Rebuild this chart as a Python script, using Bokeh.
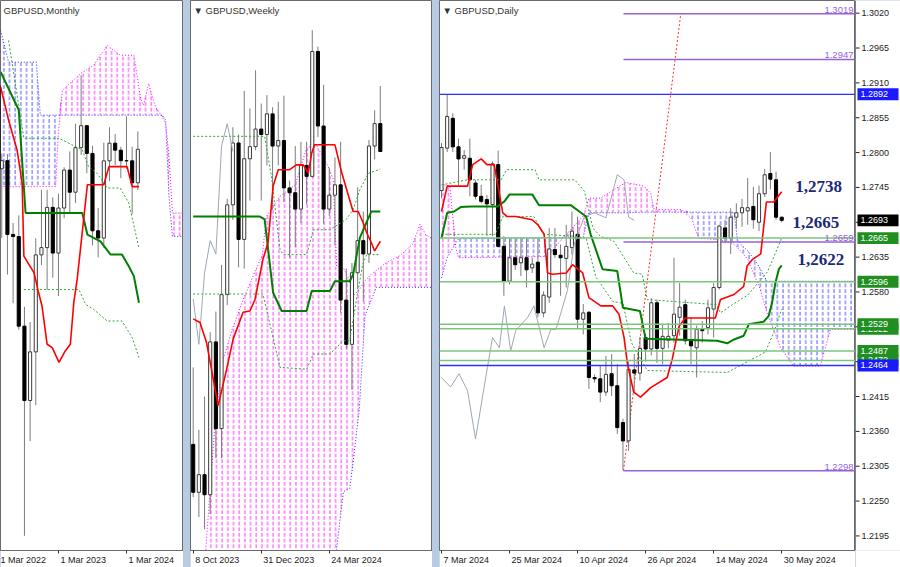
import numpy as np
from bokeh.plotting import figure
from bokeh.layouts import row
from bokeh.models import Range1d, FixedTicker, LinearAxis, Label, Span
from bokeh.core.properties import value
from bokeh.embed import file_html
from bokeh.resources import INLINE

# =================== DAILY (bar 0 = 7 Mar 2024) ===================
D_O = [1.2740,1.2807,1.2854,1.2809,1.2791,1.2791,1.2752,1.2731,1.2726,1.2718,
       1.2781,1.2652,1.2597,1.2634,1.2626,1.2634,1.2618,1.2627,1.2547,1.2572,
       1.2647,1.2638,1.2633,1.2650,1.2671,1.2537,1.2548,1.2445,1.2443,1.2422,
       1.2451,1.2432,1.2374,1.2345,1.2457,1.2452,1.2508,1.2490,1.2563,1.2491,
       1.2504,1.2511,1.2540,1.2560,1.2505,1.2492,1.2521,1.2524,1.2553,1.2587,
       1.2681,1.2665,1.2698,1.2705,1.2708,1.2715,1.2690,1.2735,1.2767,1.2757,
       1.2698]
D_H = [1.2815,1.2892,1.2862,1.2822,1.2804,1.2822,1.2757,1.2749,1.2733,1.2786,
       1.2803,1.2668,1.2665,1.2665,1.2665,1.2665,1.2634,1.2665,1.2581,1.2681,
       1.2681,1.2655,1.2686,1.2707,1.2699,1.2561,1.2550,1.2450,1.2464,1.2479,
       1.2482,1.2466,1.2380,1.2470,1.2482,1.2509,1.2514,1.2570,1.2568,1.2530,
       1.2531,1.2634,1.2594,1.2568,1.2540,1.2527,1.2534,1.2568,1.2594,1.2686,
       1.2694,1.2712,1.2720,1.2727,1.2760,1.2746,1.2748,1.2774,1.2801,1.2770,
       1.2699]
D_L = [1.2728,1.2801,1.2801,1.2749,1.2773,1.2731,1.2726,1.2720,1.2668,1.2668,
       1.2650,1.2574,1.2592,1.2615,1.2605,1.2587,1.2610,1.2540,1.2540,1.2563,
       1.2634,1.2574,1.2587,1.2639,1.2521,1.2513,1.2427,1.2437,1.2406,1.2416,
       1.2416,1.2356,1.2299,1.2329,1.2420,1.2440,1.2470,1.2480,1.2468,1.2466,
       1.2491,1.2500,1.2511,1.2497,1.2466,1.2445,1.2500,1.2513,1.2508,1.2584,
       1.2657,1.2640,1.2680,1.2683,1.2686,1.2680,1.2676,1.2730,1.2742,1.2694,
       1.2690]
D_C = [1.2808,1.2857,1.2809,1.2790,1.2795,1.2757,1.2731,1.2723,1.2719,1.2782,
       1.2652,1.2597,1.2634,1.2623,1.2634,1.2615,1.2624,1.2547,1.2575,1.2648,
       1.2639,1.2634,1.2652,1.2676,1.2537,1.2547,1.2445,1.2443,1.2422,1.2450,
       1.2432,1.2366,1.2345,1.2458,1.2452,1.2491,1.2490,1.2563,1.2491,1.2510,
       1.2510,1.2545,1.2556,1.2503,1.2495,1.2521,1.2519,1.2555,1.2587,1.2684,
       1.2665,1.2698,1.2705,1.2713,1.2713,1.2694,1.2735,1.2765,1.2758,1.2698,
       1.2693]
D_TICKS = [0, 12, 24, 36, 48, 60]
D_TICK_LABELS = ["7 Mar 2024", "25 Mar 2024", "10 Apr 2024", "26 Apr 2024", "14 May 2024", "30 May 2024"]
D_PRICE_TICKS = [1.2195, 1.2250, 1.2305, 1.2360, 1.2415, 1.2470, 1.2525, 1.2580,
                 1.2635, 1.2690, 1.2745, 1.2800, 1.2855, 1.2910, 1.2965, 1.3020]
D_TENKAN = [(0,1.2707),(1,1.2747),(4.6,1.2747),(5.5,1.2781),(7,1.2790),(8,1.2781),(9.3,1.2781),
            (10.8,1.2705),(11.6,1.2699),(13.1,1.2699),(16,1.2694),(17,1.2686),(18.1,1.2671),
            (18.7,1.2610),(19.6,1.2608),(22,1.2610),(23.1,1.2623),(24.9,1.2610),(26,1.2571),
            (28.1,1.2558),(30.2,1.2558),(31.3,1.2545),(32.2,1.2508),(32.8,1.2466),(33.9,1.2422),
            (35.1,1.2414),(36.9,1.2429),(39.8,1.2445),(40.7,1.2474),(41.9,1.2526),(43,1.2539),
            (48.3,1.2539),(49.2,1.2568),(51.6,1.2576),(53.3,1.2589),(53.9,1.2621),(54.8,1.2631),
            (56.3,1.2640),(57.3,1.2722),(58.6,1.2722),(60,1.2738)]
D_KIJUN = [(0,1.2665),(1,1.2705),(2.2,1.2707),(3.4,1.2714),(5.2,1.2715),(9.9,1.2715),(11.1,1.2723),
           (12,1.2734),(16,1.2734),(17.2,1.2717),(22.8,1.2717),(24.3,1.2707),(25.5,1.2699),
           (26.3,1.2671),(28.4,1.2616),(31,1.2613),(32,1.2555),(35,1.2550),(36,1.2506),
           (48.6,1.2503),(50.4,1.2499),(51.6,1.2505),(53.3,1.2511),(54.2,1.2529),(56.8,1.2533),
           (57.7,1.2542),(58.3,1.2563),(58.9,1.2595),(59.5,1.2616),(60,1.2622)]
D_CHIKOU = [(0,1.2445),(1.6,1.2430),(3.1,1.2451),(4.6,1.2424),(6,1.2348),(8.1,1.2461),(9,1.2508),
            (10.2,1.2492),(11.1,1.2558),(12.2,1.2487),(13.1,1.2519),(15.2,1.2540),(16.3,1.2558),
            (18.1,1.2492),(19.3,1.2521),(20.2,1.2521),(22.2,1.2582),(23.4,1.2655),(25.2,1.2699),
            (27,1.2705),(29,1.2697),(31,1.2765),(32.2,1.2757),(33,1.2698),(34,1.2693)]
D_DASH_UP = [(0,1.2749),(4.5,1.2757),(10.5,1.2757),(11.5,1.2773),(16.5,1.2773),(17.2,1.2757),
             (23.5,1.2757),(25.2,1.2739),(26.7,1.2681),(28,1.2668),(30.4,1.2660),(33.9,1.2610),
             (35.4,1.2608),(36.3,1.2568),(48.5,1.2560),(49.2,1.2547),(51.3,1.2560),(54,1.2575),
             (57.5,1.2612),(60,1.2665)]
D_DASH_LO = [(0,1.2671),(9.5,1.2671),(10.8,1.2699),(16.3,1.2699),(18,1.2671),(23.4,1.2668),
             (25.5,1.2665),(27.2,1.2604),(30.2,1.2565),(32,1.2562),(33.5,1.2500),(36.3,1.2456),
             (50.4,1.2453),(57.1,1.2485),(58.6,1.2516),(60,1.2553)]
D_KUMO_X = [0,1,1.5,2.5,3,18.7,21.5,25,25.2,26,28,32.5,35.7,36.9,37.5,42.4,44.2,45.3,49.2,
            51.3,51.6,52.2,52.8,54,55.7,56,57.4,59.8,62.1,66.8,68.6,73.5]
D_SPAN_A = [1.2602,1.2634,1.2642,1.2657,1.2664,1.2666,1.2666,1.2666,1.2674,1.2705,1.2705,
            1.2705,1.2706,1.2706,1.2706,1.2706,1.2706,1.2706,1.2706,1.2706,1.2706,1.2662,
            1.2655,1.2645,1.2625,1.2620,1.2597,1.2597,1.2597,1.2597,1.2597,1.2597]
D_SPAN_B = [1.2750,1.2748,1.2745,1.2650,1.2634,1.2636,1.2666,1.2700,1.2705,1.2728,1.2728,
            1.2753,1.2747,1.2736,1.2710,1.2710,1.2694,1.2665,1.2662,1.2657,1.2655,1.2650,
            1.2644,1.2632,1.2595,1.2590,1.2547,1.2492,1.2463,1.2463,1.2521,1.2521]
D_GREEN_LEVELS = [1.2665, 1.2596, 1.2529, 1.2522, 1.2487, 1.2472]
D_BLUE_LEVELS = [1.2892, 1.2464]
D_FIB_START = 32.1
D_FIB_LEVELS = [1.3019, 1.2947, 1.2659, 1.2298]
D_TREND_X = [32.1, 42.2]
D_TREND_Y = [1.2298, 1.3019]
D_BOXES = [(1.2472, "1.2472", "#1f8f1f"), (1.2522, "1.2522", "#1f8f1f"),
           (1.2665, "1.2665", "#1f8f1f"), (1.2596, "1.2596", "#1f8f1f"),
           (1.2529, "1.2529", "#1f8f1f"), (1.2487, "1.2487", "#1f8f1f"),
           (1.2892, "1.2892", "#1a1aff"), (1.2464, "1.2464", "#1a1aff"),
           (1.2693, "1.2693", "#000000")]
D_NOTES = [(62.4, 1.2746, "1,2738"), (61.9, 1.2689, "1,2665"), (62.8, 1.2631, "1,2622")]

# =================== WEEKLY (bar 0 = 8 Oct 2023) ===================
W_O = [1.2210,1.2131,1.2160,1.2127,1.2379,1.2236,1.2457,1.2605,1.2707,1.2548,
       1.2681,1.2701,1.2730,1.2721,1.2755,1.2702,1.2711,1.2633,1.2625,1.2598,
       1.2670,1.2652,1.2858,1.2735,1.2598,1.2621,1.2638,1.2448,1.2375,1.2493,
       1.2546,1.2524,1.2702,1.2739]
W_H = [1.2337,1.2234,1.2289,1.2395,1.2429,1.2506,1.2615,1.2733,1.2721,1.2793,
       1.2764,1.2827,1.2772,1.2786,1.2766,1.2775,1.2785,1.2645,1.2702,1.2709,
       1.2709,1.2893,1.2866,1.2803,1.2666,1.2683,1.2709,1.2500,1.2509,1.2634,
       1.2594,1.2712,1.2761,1.2801]
W_L = [1.2123,1.2090,1.2070,1.2095,1.2187,1.2187,1.2440,1.2580,1.2502,1.2500,
       1.2612,1.2695,1.2612,1.2670,1.2597,1.2670,1.2610,1.2518,1.2535,1.2575,
       1.2606,1.2650,1.2717,1.2574,1.2587,1.2539,1.2427,1.2367,1.2300,1.2466,
       1.2446,1.2509,1.2680,1.2694]
W_C = [1.2131,1.2160,1.2127,1.2379,1.2236,1.2457,1.2605,1.2707,1.2548,1.2681,
       1.2701,1.2730,1.2721,1.2755,1.2702,1.2711,1.2633,1.2625,1.2598,1.2670,
       1.2652,1.2858,1.2735,1.2598,1.2621,1.2638,1.2448,1.2375,1.2493,1.2546,
       1.2524,1.2702,1.2739,1.2693]
W_TICKS = [0, 12, 24]
W_TICK_LABELS = ["8 Oct 2023", "31 Dec 2023", "24 Mar 2024"]
W_TENKAN = [(0,1.2417),(1.2,1.2411),(2.35,1.2378),(4.4,1.2274),(5.9,1.2334),(7.05,1.2384),
            (8.8,1.2428),(10,1.2430),(10.9,1.2449),(12.3,1.2515),(13.2,1.2543),(14.1,1.2636),
            (15,1.2663),(17,1.2663),(18.2,1.2671),(19.4,1.2671),(20.3,1.2658),(20.9,1.2690),
            (21.4,1.2704),(25,1.2704),(26.2,1.2658),(28.2,1.2594),(29.1,1.2594),(30,1.2575),
            (30.6,1.2559),(31.4,1.2543),(32,1.2529),(33,1.2545)]
W_KIJUN = [(0,1.2586),(11.7,1.2586),(12.6,1.2581),(14.1,1.2460),(15.6,1.2430),(20,1.2430),
           (20.9,1.2463),(24.1,1.2463),(25,1.2479),(27.6,1.2479),(28.2,1.2490),(29.4,1.2551),
           (31.4,1.2594),(33,1.2594)]
W_CHIKOU = [(0,1.2450),(1,1.2375),(2,1.2493),(3,1.2546),(4,1.2524),(5,1.2702),(6,1.2739),(7,1.2693)]
W_DASH_UP = [(0,1.2718),(12.6,1.2718),(13.8,1.2652),(15.3,1.2532),(15.9,1.2523),(20,1.2523),
             (21.2,1.2564),(24.1,1.2564),(27,1.2581),(28.2,1.2597),(29.4,1.2630),(30.9,1.2657),
             (33,1.2664)]
W_DASH_LO = [(0,1.2458),(12.3,1.2458),(15.3,1.2337),(20,1.2334),(21.2,1.2359),(24.1,1.2359),
             (26.5,1.2381),(27.6,1.2381),(28.8,1.2449),(29.9,1.2507),(30.6,1.2523),(33,1.2523)]
W_KUMO_X = [0,2.2,3.9,5.3,6.9,8.8,12.2,12.9,15.3,18,20,21.7,23.8,24.7,25.3,26.5,27.6,28.2,
            29.3,30.3,31.7,32.3,34.1,36.4,38.7,40,41,42.3]
W_SPAN_A = [1.1900,1.1910,1.1920,1.1925,1.1930,1.1940,1.1950,1.1955,1.1960,1.1970,1.1980,
            1.1985,1.1990,1.1995,1.2039,1.2132,1.2137,1.2180,1.2269,1.2422,1.2455,1.2469,
            1.2469,1.2469,1.2469,1.2469,1.2469,1.2469]
W_SPAN_B = [1.1960,1.2035,1.2252,1.2351,1.2400,1.2449,1.2523,1.2586,1.2619,1.2638,1.2699,
            1.2704,1.2668,1.2647,1.2504,1.2501,1.2480,1.2455,1.2465,1.2480,1.2493,1.2497,
            1.2510,1.2521,1.2540,1.2573,1.2556,1.2548]

# =================== MONTHLY (bar 0 = Mar 2024) ===================
M_FIRST = -23
M_O = [1.3078,1.2575,1.2624,1.2177,1.2164,1.1621,1.1170,1.1465,1.2053,1.2097,1.2341,1.2064,1.2337,
       1.2567,1.2433,1.2703,1.2836,1.2668,1.2199,1.2155,1.2623,1.2730,1.2688,1.2624,1.2623,1.2490]
M_H = [1.3167,1.2667,1.2665,1.2246,1.2293,1.1738,1.1646,1.2154,1.2446,1.2448,1.2401,1.2424,1.2584,
       1.2680,1.2848,1.3142,1.2841,1.2714,1.2337,1.2733,1.2827,1.2786,1.2709,1.2893,1.2709,1.2801]
M_L = [1.2411,1.2156,1.1934,1.1760,1.1600,1.0350,1.0924,1.1142,1.1992,1.1841,1.1915,1.1803,1.2275,
       1.2308,1.2368,1.2659,1.2548,1.2111,1.2037,1.2096,1.2500,1.2597,1.2518,1.2575,1.2300,1.2446]
M_C = [1.2575,1.2624,1.2177,1.2164,1.1621,1.1170,1.1465,1.2053,1.2097,1.2341,1.2064,1.2337,1.2567,
       1.2433,1.2703,1.2836,1.2668,1.2199,1.2155,1.2623,1.2730,1.2688,1.2624,1.2623,1.2490,1.2693]
M_TICKS = [-24, -12, 0]
M_TICK_LABELS = ["1 Mar 2022", "1 Mar 2023", "1 Mar 2024"]
M_TENKAN = [(-22.2,1.3071),(-20.8,1.2870),(-19.3,1.2689),(-18.4,1.2488),(-18.1,1.2045),
            (-16.3,1.1944),(-15.5,1.1823),(-14.9,1.1743),(-14.0,1.1511),(-13.1,1.1491),
            (-11.9,1.1401),(-10.8,1.1471),(-9.9,1.1511),(-9.3,1.1763),(-8.7,1.1904),
            (-6.9,1.2478),(-4.0,1.2478),(-3.1,1.2588),(0.1,1.2588),(1.0,1.2467),(2.2,1.2467)]
M_KIJUN = [(-22.2,1.3162),(-19,1.2931),(-17.8,1.2307),(-7.8,1.2307),(-6.9,1.2176),(-4.6,1.2135),
           (-2.8,1.2055),(-0.8,1.2055),(0.4,1.1984),(1.3,1.1924),(2.2,1.1763)]
M_DASH_UP = [(-20.8,1.3353),(-18.1,1.2760),(-11.9,1.2760),(-7.8,1.2689),(-6.7,1.2588),(-5.2,1.2548),
             (-3.4,1.2458),(-1.1,1.2458),(0.4,1.2367),(2.2,1.2095)]
M_DASH_LO = [(-18.1,1.1843),(-8.4,1.1843),(-7.2,1.1753),(-5.8,1.1723),(-3.4,1.1652),(-0.8,1.1652),
             (1.0,1.1552),(2.2,1.1431)]
M_KUMO_X = [-22.2,-20.8,-15.9,-15.2,-12.5,-12.0,-11.3,-8.1,-5.8,-3.4,-1.1,1.3,2.5,3.0,3.9,5.1,
            6.3,6.9,7.5,8.1,8.9,10.1]
M_SPAN_A = [1.3414,1.3221,1.3221,1.2900,1.2900,1.2900,1.2900,1.2900,1.2900,1.2900,1.2900,1.2900,
            1.2900,1.2900,1.2900,1.2900,1.2900,1.2870,1.2400,1.2165,1.2165,1.2165]
M_SPAN_B = [1.2467,1.2467,1.2467,1.2467,1.2467,1.2800,1.3051,1.3152,1.3202,1.3323,1.3263,1.3263,
            1.3000,1.2960,1.3092,1.2950,1.2890,1.2850,1.2650,1.2307,1.2307,1.2307]

# =================== style / layout ===================
FONT = "Liberation Sans"
H = 567
BOTTOM = 15
SEP = "#b7cbe3"
RED, GREEN, DASHG, CHIK = "#ff0000", "#008000", "#33a833", "#9ea8b4"
BLUE, MAG, LEVG, PURP = "#2a2aff", "#ff00ff", "#7cc67c", "#9563d6"
PX_BAR = 5.67
W_M, W_W, W_D, W_AX, GAP = 183, 242, 416, 45, 7
XR_M = (-126 / PX_BAR, -126 / PX_BAR + W_M / PX_BAR)
XR_W = (-2.7 / PX_BAR, -2.7 / PX_BAR + W_W / PX_BAR)
XR_D = (-2.0 / PX_BAR, -2.0 / PX_BAR + W_D / PX_BAR)
YR_M = (1.0261, 1.3595)
YR_W = (1.2035, 1.2942)
YR_D = (1.2172, 1.3040)

CHAR_W = {" ": 0.278, "M": 0.833, "a": 0.556, "r": 0.333, "A": 0.667, "p": 0.556,
          "y": 0.5, "O": 0.778, "c": 0.5, "t": 0.278, "D": 0.722, "e": 0.556}


def text_width(s, size):
    return sum(CHAR_W.get(ch, 0.556) for ch in s) * size


def base(width, xr, yr):
    p = figure(width=width, height=H, x_range=Range1d(*xr), y_range=Range1d(*yr),
               output_backend="svg", toolbar_location=None,
               x_axis_location=None, y_axis_location=None,
               min_border_left=0, min_border_right=0, min_border_top=0, min_border_bottom=BOTTOM)
    p.grid.visible = False
    p.outline_line_color = "#6b6b6b"
    p.background_fill_color = "white"
    p.border_fill_color = "white"
    return p


def date_axis(p, ticks, labels):
    centers = [round(t + (2 + text_width(s, 9) / 2) / PX_BAR, 3) for t, s in zip(ticks, labels)]
    ax = LinearAxis(ticker=FixedTicker(ticks=centers, minor_ticks=list(ticks)),
                    major_label_overrides={c: s for c, s in zip(centers, labels)})
    ax.major_tick_line_color = None
    ax.major_tick_in = 0
    ax.major_tick_out = 1
    ax.minor_tick_in = 0
    ax.minor_tick_out = 3
    ax.minor_tick_line_color = "#333333"
    ax.major_label_standoff = 1
    ax.major_label_text_font = FONT
    ax.major_label_text_font_size = "9px"
    ax.major_label_text_color = "#222222"
    ax.axis_line_color = "#6b6b6b"
    p.add_layout(ax, "below")


def candles(p, x, o, h, l, c, w=0.55):
    x, o, h, l, c = map(np.asarray, (x, o, h, l, c))
    up = c >= o
    p.segment(x, h, x, l, color="#7c7c7c", line_width=1)
    p.vbar(x=x[up], bottom=o[up], top=c[up], width=w, fill_color="white",
           line_color="#3a3a3a", line_width=1)
    p.vbar(x=x[~up], bottom=c[~up], top=o[~up], width=w, fill_color="black",
           line_color="black", line_width=1)


def path(p, pts, **kw):
    xs, ys = zip(*pts)
    p.line(list(xs), list(ys), **kw)


def kumo(p, kx, a, b):
    a = np.asarray(a)
    b = np.asarray(b)
    top = np.maximum(a, b)
    p.varea(x=kx, y1=b, y2=top, fill_color=None, hatch_pattern="vertical_dash",
            hatch_color=BLUE, hatch_scale=PX_BAR, hatch_weight=1, hatch_alpha=0.8)
    p.varea(x=kx, y1=a, y2=top, fill_color=None, hatch_pattern="vertical_dash",
            hatch_color=MAG, hatch_scale=PX_BAR, hatch_weight=1, hatch_alpha=0.8)
    p.line(kx, list(a), color=BLUE, line_dash="1 2", line_width=1)
    p.line(kx, list(b), color=MAG, line_dash="1 2", line_width=1)


def ichimoku(p, tenkan, kijun, up, lo, chikou=None):
    path(p, up, color=DASHG, line_dash="2 2", line_width=1)
    path(p, lo, color=DASHG, line_dash="2 2", line_width=1)
    if chikou:
        path(p, chikou, color=CHIK, line_width=1)
    path(p, kijun, color=GREEN, line_width=2)
    path(p, tenkan, color=RED, line_width=1.6)


def title(p, text):
    p.add_layout(Label(x=p.x_range.start, y=p.y_range.end, x_offset=3, y_offset=-4,
                       text=text, text_align="left", text_baseline="top",
                       text_font=FONT, text_font_size="9.5px", text_color="#333333"))


# ---------- Monthly ----------
pm = base(W_M, XR_M, YR_M)
kumo(pm, M_KUMO_X, M_SPAN_A, M_SPAN_B)
candles(pm, list(range(M_FIRST, M_FIRST + len(M_O))), M_O, M_H, M_L, M_C)
ichimoku(pm, M_TENKAN, M_KIJUN, M_DASH_UP, M_DASH_LO)
date_axis(pm, M_TICKS, M_TICK_LABELS)
title(pm, "GBPUSD,Monthly")

# ---------- Weekly ----------
pw = base(W_W, XR_W, YR_W)
kumo(pw, W_KUMO_X, W_SPAN_A, W_SPAN_B)
candles(pw, list(range(len(W_O))), W_O, W_H, W_L, W_C)
ichimoku(pw, W_TENKAN, W_KIJUN, W_DASH_UP, W_DASH_LO, W_CHIKOU)
date_axis(pw, W_TICKS, W_TICK_LABELS)
title(pw, "\u25BC GBPUSD,Weekly")

# ---------- Daily ----------
pd_ = base(W_D, XR_D, YR_D)
kumo(pd_, D_KUMO_X, D_SPAN_A, D_SPAN_B)
for lv in D_GREEN_LEVELS:
    pd_.add_layout(Span(location=lv, dimension="width", line_color=LEVG, line_width=1.5))
pd_.segment(x0=[D_FIB_START] * len(D_FIB_LEVELS), y0=D_FIB_LEVELS,
            x1=[XR_D[1]] * len(D_FIB_LEVELS), y1=D_FIB_LEVELS, color=PURP, line_width=1.5)
pd_.line(D_TREND_X, D_TREND_Y, color="#ff3030", line_dash="2 2", line_width=1)
candles(pd_, list(range(len(D_O))), D_O, D_H, D_L, D_C)
ichimoku(pd_, D_TENKAN, D_KIJUN, D_DASH_UP, D_DASH_LO, D_CHIKOU)
for lv in D_BLUE_LEVELS:
    pd_.add_layout(Span(location=lv, dimension="width", line_color="#2f2fff", line_width=1.3))
date_axis(pd_, D_TICKS, D_TICK_LABELS)

for lv in D_FIB_LEVELS:
    pd_.add_layout(Label(x=XR_D[1], y=lv, x_offset=-2, y_offset=1, text=f"{lv:.4f}",
                         text_align="right", text_baseline="bottom", text_font=FONT,
                         text_font_size="9.5px", text_color=PURP))
for xi, yv, txt in D_NOTES:
    pd_.add_layout(Label(x=xi, y=yv, text=txt, text_align="left", text_baseline="middle",
                         text_font="Liberation Serif", text_font_style="bold",
                         text_font_size="17px", text_color="#1c2a78"))
title(pd_, "\u25BC GBPUSD,Daily")

# ---------- Daily price scale (separate strip sharing the y range) ----------
pa = figure(width=W_AX, height=H, x_range=Range1d(0, W_AX), y_range=pd_.y_range,
            output_backend="svg", toolbar_location=None,
            x_axis_location=None, y_axis_location=None,
            min_border_left=0, min_border_right=0, min_border_top=0, min_border_bottom=BOTTOM)
pa.grid.visible = False
pa.outline_line_color = None
pa.background_fill_color = "white"
pa.border_fill_color = "white"
pa.add_layout(Span(location=0, dimension="height", line_color="#222222", line_width=1))
pa.segment(x0=[0] * len(D_PRICE_TICKS), y0=D_PRICE_TICKS, x1=[4] * len(D_PRICE_TICKS),
           y1=D_PRICE_TICKS, color="#222222", line_width=1)
pa.text(x=[6] * len(D_PRICE_TICKS), y=D_PRICE_TICKS, text=[f"{v:.4f}" for v in D_PRICE_TICKS],
        text_font=value(FONT), text_font_size=value("9px"), text_color="#222222",
        text_baseline="middle", text_align="left")
half = (YR_D[1] - YR_D[0]) / (H - BOTTOM) * 6.0
for yv, txt, bg in D_BOXES:
    pa.quad(left=[2], right=[W_AX - 2], bottom=[yv - half], top=[yv + half],
            fill_color=bg, line_color=None)
    pa.text(x=[5], y=[yv], text=[txt], text_font=value(FONT), text_font_size=value("9px"),
            text_color="white", text_baseline="middle", text_align="left")

layout = row(pm, pw, row(pd_, pa, spacing=0), spacing=GAP, styles={"background-color": SEP})
open("out.html", "w").write(file_html(layout, INLINE))
